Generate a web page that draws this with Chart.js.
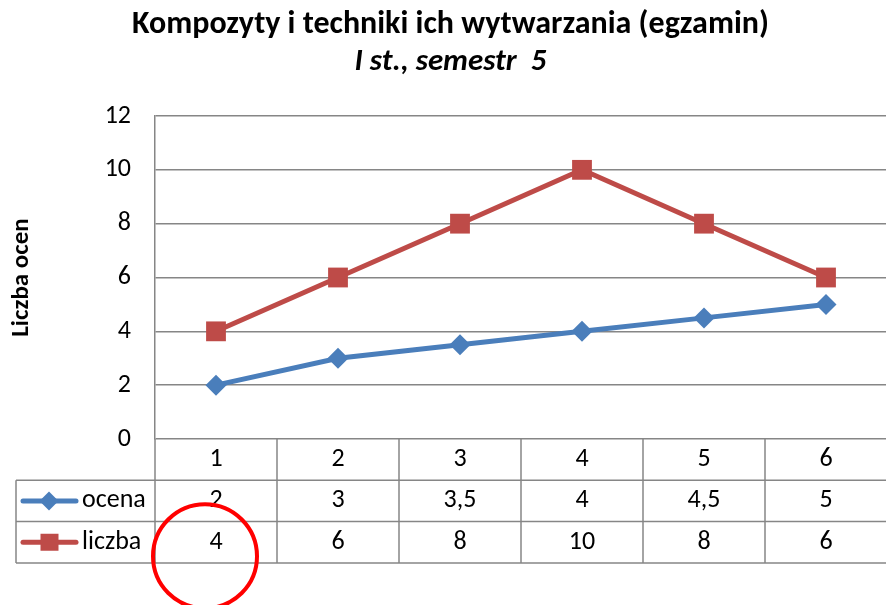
<!DOCTYPE html>
<html>
<head>
<meta charset="utf-8">
<script src="https://cdn.jsdelivr.net/npm/chart.js@4/dist/chart.umd.min.js"></script>
<style>
  html, body { margin: 0; padding: 0; background: #fff; overflow: hidden; }
  #wrap { width: 901px; height: 605px; }
</style>
</head>
<body>
<div id="wrap"><canvas id="c" width="901" height="605"></canvas></div>
<script>
const categories = ['1', '2', '3', '4', '5', '6'];
const ocena = [2, 3, 3.5, 4, 4.5, 5];
const liczba = [4, 6, 8, 10, 8, 6];
const seriesNames = ['ocena', 'liczba'];
const titleText = 'Kompozyty i techniki ich wytwarzania (egzamin)';
const subtitleText = 'I st., semestr  5';
const yTitle = 'Liczba ocen';

const FONT = "Carlito, Lato, 'Open Sans', sans-serif";
const BLUE = '#4A7EBB';
const RED = '#BE4B48';
const GRID = '#868686';
const ROW_H = 41.3;
const LEGEND_LEFT = 16;
const TXT = 26;

const fmt = v => String(v).replace('.', ',');

const tablePlugin = {
  id: 'dataTable',
  afterDraw(chart) {
    const ctx = chart.ctx;
    const xs = chart.scales.x, ys = chart.scales.y;
    const L = chart.chartArea.left, R = chart.chartArea.right;
    const y0 = ys.getPixelForValue(0);
    const rows = [y0 + ROW_H, y0 + 2 * ROW_H, y0 + 3 * ROW_H];
    ctx.save();
    ctx.strokeStyle = GRID;
    ctx.lineWidth = 1.5;
    ctx.beginPath();
    rows.forEach(y => { ctx.moveTo(LEGEND_LEFT, y); ctx.lineTo(R, y); });
    ctx.moveTo(L, y0); ctx.lineTo(L, rows[2]);
    ctx.moveTo(LEGEND_LEFT, rows[0]); ctx.lineTo(LEGEND_LEFT, rows[2]);
    for (let i = 0; i < categories.length; i++) {
      const xb = i < categories.length - 1
        ? (xs.getPixelForValue(i) + xs.getPixelForValue(i + 1)) / 2
        : R;
      ctx.moveTo(xb, y0); ctx.lineTo(xb, rows[2]);
    }
    ctx.stroke();

    ctx.fillStyle = '#000';
    ctx.font = TXT + 'px ' + FONT;
    ctx.textAlign = 'center';
    ctx.textBaseline = 'middle';
    const data = [ocena, liczba];
    data.forEach((arr, r) => {
      const cy = rows[r] + ROW_H / 2;
      arr.forEach((v, i) => ctx.fillText(fmt(v), xs.getPixelForValue(i), cy));
    });

    // legend keys
    const colors = [BLUE, RED];
    seriesNames.forEach((name, r) => {
      const cy = rows[r] + ROW_H / 2;
      ctx.strokeStyle = colors[r];
      ctx.lineWidth = 5;
      ctx.lineCap = 'round';
      ctx.beginPath(); ctx.moveTo(23, cy); ctx.lineTo(76, cy); ctx.stroke();
      ctx.fillStyle = colors[r];
      ctx.beginPath();
      if (r === 0) {
        ctx.moveTo(49, cy - 9.5); ctx.lineTo(58.5, cy); ctx.lineTo(49, cy + 9.5); ctx.lineTo(39.5, cy);
      } else {
        ctx.rect(40.5, cy - 8.5, 18, 17);
      }
      ctx.fill();
      ctx.fillStyle = '#000';
      ctx.textAlign = 'left';
      ctx.fillText(name, 82, cy);
    });

    // red annotation circle around first liczba cell
    ctx.strokeStyle = '#FF0000';
    ctx.lineWidth = 4;
    ctx.beginPath();
    ctx.arc(xs.getPixelForValue(0) - 11, rows[1] + ROW_H / 2 + 14, 52, 0, Math.PI * 2);
    ctx.stroke();
    ctx.restore();
  }
};

new Chart(document.getElementById('c'), {
  type: 'line',
  data: {
    labels: categories,
    datasets: [
      {
        label: seriesNames[0], data: ocena,
        borderColor: BLUE, backgroundColor: BLUE, borderWidth: 5,
        pointStyle: 'rectRot', pointRadius: 10.5, pointBorderWidth: 0,
        tension: 0
      },
      {
        label: seriesNames[1], data: liczba,
        borderColor: RED, backgroundColor: RED, borderWidth: 5,
        pointStyle: 'rect', pointRadius: 14, pointBorderWidth: 0,
        tension: 0
      }
    ]
  },
  options: {
    responsive: false,
    animation: false,
    events: [],
    layout: { padding: 0 },
    plugins: {
      legend: { display: false },
      tooltip: { enabled: false },
      title: {
        display: true, text: titleText, color: '#000',
        font: { family: FONT, size: 32, weight: 'bold', lineHeight: 1.2 },
        padding: { top: 5.3, bottom: 0.4 }
      },
      subtitle: {
        display: true, text: subtitleText, color: '#000',
        font: { family: FONT, size: 31, weight: 'bold', style: 'italic', lineHeight: 1.2 },
        padding: { top: 0, bottom: 34.7 }
      }
    },
    scales: {
      x: {
        offset: true,
        grid: { display: false, drawTicks: false },
        border: { display: false },
        ticks: { color: '#000', font: { family: FONT, size: TXT }, padding: 5, maxRotation: 0 },
        afterFit: s => { s.height = 166; }
      },
      y: {
        min: 0, max: 12,
        ticks: { stepSize: 2, color: '#000', font: { family: FONT, size: TXT }, padding: 24 },
        grid: { color: GRID, lineWidth: 1.5, drawTicks: false },
        border: { color: GRID, width: 1.5 },
        title: {
          display: true, text: yTitle, color: '#000',
          font: { family: FONT, size: 25, weight: 'bold', lineHeight: 1.2 },
          padding: { top: 7, bottom: 0 }
        },
        afterFit: s => { s.width = 155; }
      }
    }
  },
  plugins: [tablePlugin]
});
</script>
</body>
</html>
